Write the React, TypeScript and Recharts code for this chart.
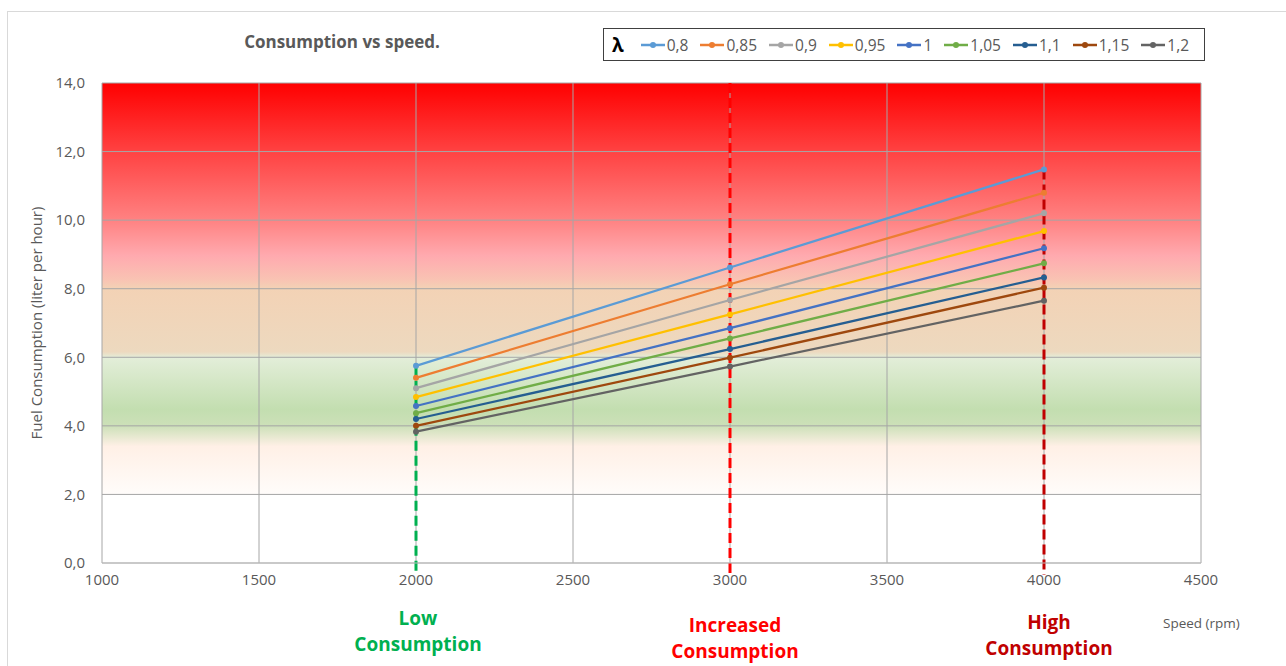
import React from 'react';
import { CartesianGrid, Line, LineChart, ReferenceLine, XAxis, YAxis } from 'recharts';

const SPEEDS = [2000, 3000, 4000];
const LAMBDAS = ['0,8', '0,85', '0,9', '0,95', '1', '1,05', '1,1', '1,15', '1,2'];
const COLORS = ['#5B9BD5', '#ED7D31', '#A5A5A5', '#FFC000', '#4472C4', '#70AD47', '#255E91', '#9E480E', '#636363'];

const L_080 = [5.75, 8.62, 11.48];
const L_085 = [5.4, 8.13, 10.8];
const L_090 = [5.1, 7.67, 10.2];
const L_095 = [4.84, 7.25, 9.68];
const L_100 = [4.58, 6.85, 9.18];
const L_105 = [4.37, 6.55, 8.74];
const L_110 = [4.2, 6.24, 8.33];
const L_115 = [4.0, 5.99, 8.03];
const L_120 = [3.83, 5.73, 7.65];
const SERIES = [L_080, L_085, L_090, L_095, L_100, L_105, L_110, L_115, L_120];

const X_TICKS = [1000, 1500, 2000, 2500, 3000, 3500, 4000, 4500];
const Y_TICKS = [0, 2, 4, 6, 8, 10, 12, 14];

const data = SPEEDS.map((speed, i) => {
  const row: Record<string, number> = { speed };
  LAMBDAS.forEach((l, j) => {
    row[l] = SERIES[j][i];
  });
  return row;
});

const FONT = '"Open Sans", sans-serif';
const fmt = (v: number) => v.toFixed(1).replace('.', ',');

const zoneLabel = (color: string): React.CSSProperties => ({
  position: 'absolute',
  transform: 'translateX(-50%)',
  textAlign: 'center',
  color,
  fontFamily: FONT,
  fontWeight: 700,
  fontSize: 19,
  lineHeight: '26px',
  whiteSpace: 'nowrap',
});

export default function App() {
  return (
    <div style={{ position: 'absolute', left: 0, top: 0, width: 1286, height: 666, background: '#fff', overflow: 'hidden' }}>
      <div style={{ position: 'absolute', left: 7, top: 11, width: 1290, height: 700, border: '1px solid #D9D9D9' }} />
      <div
        style={{
          position: 'absolute',
          left: 342,
          top: 30,
          transform: 'translateX(-50%)',
          fontFamily: FONT,
          fontWeight: 700,
          fontSize: 17,
          color: '#595959',
          whiteSpace: 'nowrap',
        }}
      >
        Consumption vs speed.
      </div>

      <div
        style={{
          position: 'absolute',
          left: 603,
          top: 28,
          width: 600,
          height: 31,
          border: '1px solid #404040',
          display: 'flex',
          alignItems: 'center',
          fontFamily: FONT,
          fontSize: 15.5,
          color: '#595959',
          background: '#fff',
        }}
      >
        <span style={{ fontWeight: 700, fontSize: 19, color: '#000', marginLeft: 8, marginRight: 17 }}>λ</span>
        {LAMBDAS.map((l, j) => (
          <span key={l} style={{ display: 'flex', alignItems: 'center', marginRight: 12 }}>
            <svg width={24} height={10} style={{ marginRight: 2 }}>
              <line x1={0} y1={5} x2={24} y2={5} stroke={COLORS[j]} strokeWidth={2.5} />
              <circle cx={12} cy={5} r={3} fill={COLORS[j]} />
            </svg>
            {l}
          </span>
        ))}
      </div>

      <LineChart width={1286} height={666} data={data} margin={{ top: 83, right: 85, bottom: 73, left: 40 }} style={{ position: 'absolute', left: 0, top: 0 }}>
        <defs>
          <linearGradient id="zones" x1="0" y1="0" x2="0" y2="1">
            <stop offset="0" stopColor="#FF0000" />
            <stop offset="0.143" stopColor="#FF4242" />
            <stop offset="0.286" stopColor="#FF8282" />
            <stop offset="0.36" stopColor="#FFAAAF" />
            <stop offset="0.41" stopColor="#F9C3B3" />
            <stop offset="0.428" stopColor="#F3D2B5" />
            <stop offset="0.56" stopColor="#EDD9BF" />
            <stop offset="0.572" stopColor="#E3EED9" />
            <stop offset="0.68" stopColor="#C3DEB0" />
            <stop offset="0.714" stopColor="#CCE0B8" />
            <stop offset="0.757" stopColor="#FFF0E6" />
            <stop offset="0.856" stopColor="#FFFCFA" />
            <stop offset="0.858" stopColor="#FFFFFF" />
            <stop offset="1" stopColor="#FFFFFF" />
          </linearGradient>
        </defs>
        <CartesianGrid stroke="#A6A6A6" strokeWidth={1} fill="url(#zones)" fillOpacity={1} />
        <XAxis
          dataKey="speed"
          type="number"
          domain={[1000, 4500]}
          ticks={X_TICKS}
          tickLine={false}
          tickSize={0}
          tickMargin={11}
          height={30}
          stroke="#BFBFBF"
          tick={{ fill: '#595959', fontSize: 15, fontFamily: FONT }}
        />
        <YAxis
          type="number"
          domain={[0, 14]}
          ticks={Y_TICKS}
          tickFormatter={fmt}
          axisLine={false}
          tickLine={false}
          tickSize={0}
          tickMargin={17}
          width={62}
          tick={{ fill: '#595959', fontSize: 15, fontFamily: FONT }}
          label={{
            value: 'Fuel Consumption (liter per hour)',
            angle: -90,
            position: 'insideLeft',
            offset: -3,
            style: { textAnchor: 'middle', fill: '#595959', fontSize: 15, fontFamily: FONT },
          }}
        />
        {LAMBDAS.map((l, j) => (
          <Line
            key={l}
            dataKey={l}
            stroke={COLORS[j]}
            strokeWidth={2.25}
            dot={{ r: 3, fill: COLORS[j], stroke: COLORS[j], strokeWidth: 0 }}
            activeDot={false}
            isAnimationActive={false}
          />
        ))}
        <ReferenceLine
          segment={[{ x: SPEEDS[0], y: L_080[0] }, { x: SPEEDS[0], y: -0.32 }]}
          stroke="#00B050"
          strokeWidth={3}
          strokeDasharray="10 5"
          ifOverflow="visible"
        />
        <ReferenceLine
          segment={[{ x: SPEEDS[1], y: 14 }, { x: SPEEDS[1], y: -0.35 }]}
          stroke="#FF0000"
          strokeWidth={3}
          strokeDasharray="10 5"
          ifOverflow="visible"
        />
        <ReferenceLine
          segment={[{ x: SPEEDS[2], y: L_080[2] }, { x: SPEEDS[2], y: -0.35 }]}
          stroke="#C00000"
          strokeWidth={3}
          strokeDasharray="10 5"
          ifOverflow="visible"
        />
      </LineChart>

      <div style={{ ...zoneLabel('#00B050'), left: 418, top: 605 }}>
        Low
        <br />
        Consumption
      </div>
      <div style={{ ...zoneLabel('#FF0000'), left: 735, top: 612 }}>
        Increased
        <br />
        Consumption
      </div>
      <div style={{ ...zoneLabel('#C00000'), left: 1049, top: 609 }}>
        High
        <br />
        Consumption
      </div>
      <div style={{ position: 'absolute', left: 1163, top: 614, fontFamily: FONT, fontSize: 13.5, color: '#595959' }}>
        Speed (rpm)
      </div>
    </div>
  );
}
